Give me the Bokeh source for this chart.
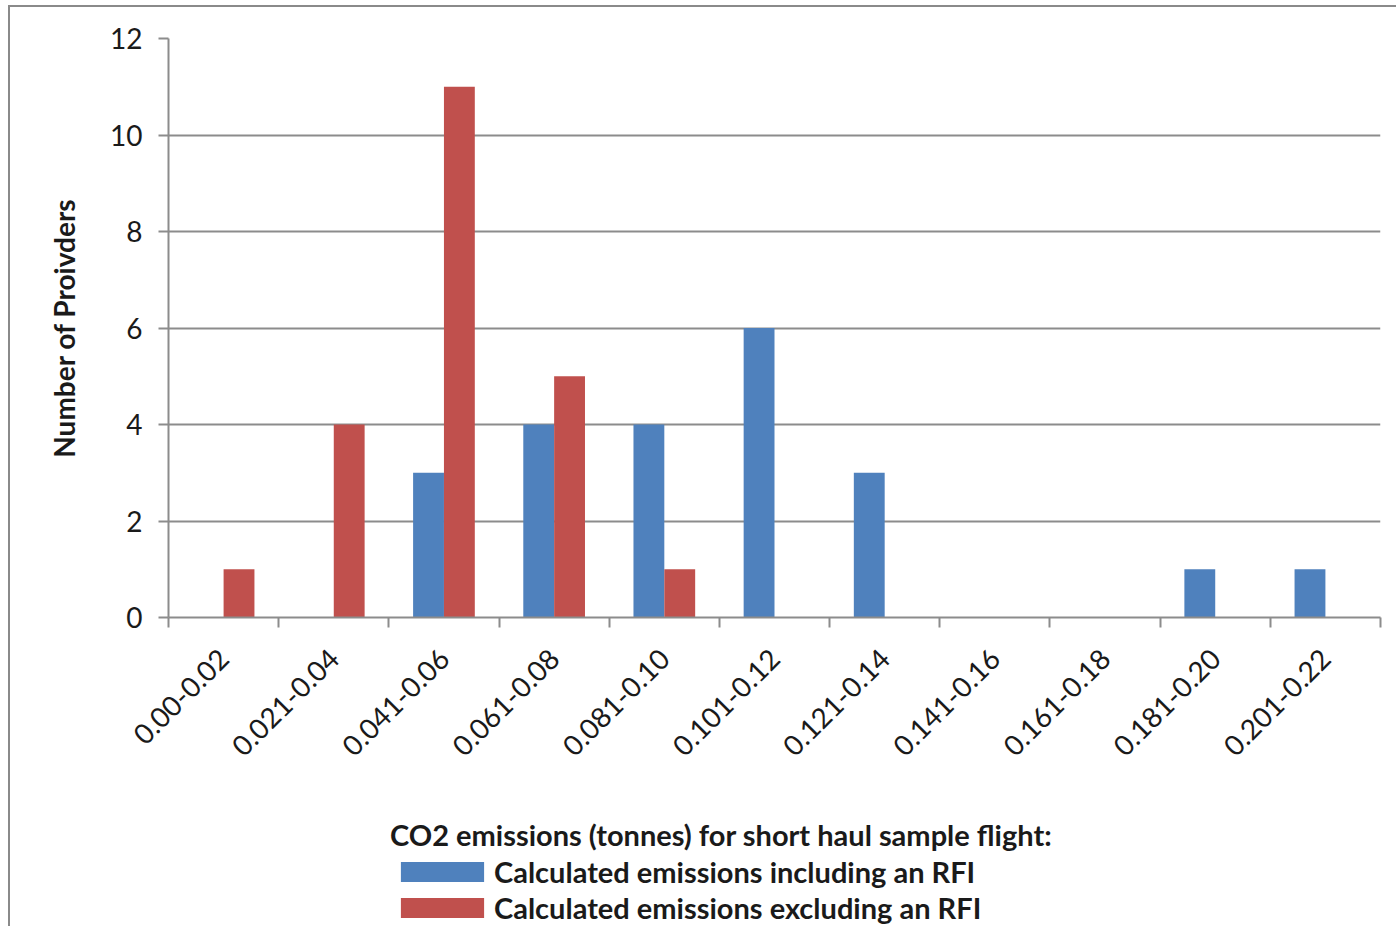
from bokeh.plotting import figure
from bokeh.layouts import column
from bokeh.models import Range1d, FixedTicker, Legend, LegendItem, ColumnDataSource
from bokeh.embed import file_html
from bokeh.resources import INLINE
from math import pi

# CO2 emission bins (tonnes) for the short haul sample flight
bins = ["0.00-0.02", "0.021-0.04", "0.041-0.06", "0.061-0.08", "0.081-0.10",
        "0.101-0.12", "0.121-0.14", "0.141-0.16", "0.161-0.18", "0.181-0.20",
        "0.201-0.22"]
incl_rfi = [0, 0, 3, 4, 4, 6, 3, 0, 0, 1, 1]
excl_rfi = [1, 4, 11, 5, 1, 0, 0, 0, 0, 0, 0]
y_ticks = [0, 2, 4, 6, 8, 10, 12]

legend_title = "CO2 emissions (tonnes) for short haul sample flight:"
label_incl = "Calculated emissions including an RFI"
label_excl = "Calculated emissions excluding an RFI"

BLUE = "#4F81BD"
RED = "#C0504D"
GRID = "#8C8C8C"
EDGE = "#8A8A8A"
TEXT = "#1A1A1A"
FONT = "Lato"

n = len(bins)
centers = [i + 0.5 for i in range(n)]
bar_w = 0.28

src = ColumnDataSource(dict(
    x_incl=[c - bar_w / 2 for c in centers],
    x_excl=[c + bar_w / 2 for c in centers],
    incl=incl_rfi,
    excl=excl_rfi,
))

# ---- main chart ---------------------------------------------------------
p = figure(width=1388, height=790, output_backend="svg", toolbar_location=None,
           x_range=Range1d(0, n), y_range=Range1d(0, max(y_ticks)),
           min_border_left=158, min_border_right=18, min_border_top=31,
           min_border_bottom=180)
p.styles = {"margin-left": "8px", "margin-top": "5px",
            "border-left": f"2px solid {EDGE}", "border-top": f"2px solid {EDGE}"}
p.outline_line_color = None
p.background_fill_color = "white"
p.border_fill_color = "white"

p.vbar(x="x_incl", top="incl", width=bar_w, source=src,
       fill_color=BLUE, line_color=None)
p.vbar(x="x_excl", top="excl", width=bar_w, source=src,
       fill_color=RED, line_color=None)

# x axis: labels at bin centres, tick marks on bin boundaries
xa = p.xaxis[0]
xa.ticker = FixedTicker(ticks=centers, minor_ticks=list(range(n + 1)))
xa.major_label_overrides = {c: b for c, b in zip(centers, bins)}
xa.major_label_orientation = pi / 4
xa.major_tick_out = 0
xa.major_tick_in = 0
xa.minor_tick_out = 10
xa.minor_tick_in = 0
xa.minor_tick_line_color = GRID
xa.axis_line_color = GRID
xa.axis_line_width = 2
xa.minor_tick_line_width = 2
xa.major_label_standoff = 26
xa.major_label_text_font = FONT
xa.major_label_text_font_size = "28px"
xa.major_label_text_color = TEXT

ya = p.yaxis[0]
ya.ticker = FixedTicker(ticks=y_ticks)
ya.major_tick_out = 10
ya.major_tick_in = 0
ya.minor_tick_out = 0
ya.minor_tick_in = 0
ya.major_tick_line_color = GRID
ya.major_tick_line_width = 2
ya.axis_line_color = GRID
ya.axis_line_width = 2
ya.major_label_standoff = 16
ya.major_label_text_font = FONT
ya.major_label_text_font_size = "28px"
ya.major_label_text_color = TEXT
ya.axis_label = "Number of Proivders"
ya.axis_label_text_font = FONT
ya.axis_label_text_font_style = "bold"
ya.axis_label_text_font_size = "28px"
ya.axis_label_text_color = TEXT
ya.axis_label_standoff = 26

p.xgrid.grid_line_color = None
p.ygrid.grid_line_color = GRID
p.ygrid.grid_line_width = 2

# ---- legend strip under the chart ----------------------------------------
lg = figure(width=1388, height=131, output_backend="svg", toolbar_location=None,
            x_range=Range1d(0, 1), y_range=Range1d(0, 1),
            x_axis_location=None, y_axis_location=None,
            min_border=0)
lg.styles = {"margin-left": "8px", "border-left": f"2px solid {EDGE}"}
lg.outline_line_color = None
lg.grid.grid_line_color = None
lg.border_fill_color = "white"

# swatch renderers: one placeholder each, kept well outside the visible range
sw_incl = lg.vbar(x=[-5], bottom=[-6], top=[-5], width=0.1,
                  fill_color=BLUE, line_color=None)
sw_excl = lg.vbar(x=[-5], bottom=[-6], top=[-5], width=0.1,
                  fill_color=RED, line_color=None)

legend = Legend(
    items=[LegendItem(label=label_incl, renderers=[sw_incl]),
           LegendItem(label=label_excl, renderers=[sw_excl])],
    location=(222, 1),
    title=legend_title,
    title_text_font=FONT, title_text_font_style="bold",
    title_text_font_size="29px", title_text_color=TEXT, title_standoff=2,
    label_text_font=FONT, label_text_font_style="bold",
    label_text_font_size="29px", label_text_color=TEXT,
    glyph_width=104, glyph_height=25, label_standoff=0, spacing=1,
    padding=0, margin=0, border_line_color=None, background_fill_alpha=0,
)
lg.add_layout(legend, "center")

layout = column(p, lg, spacing=0)
open("out.html", "w").write(file_html(layout, INLINE))
